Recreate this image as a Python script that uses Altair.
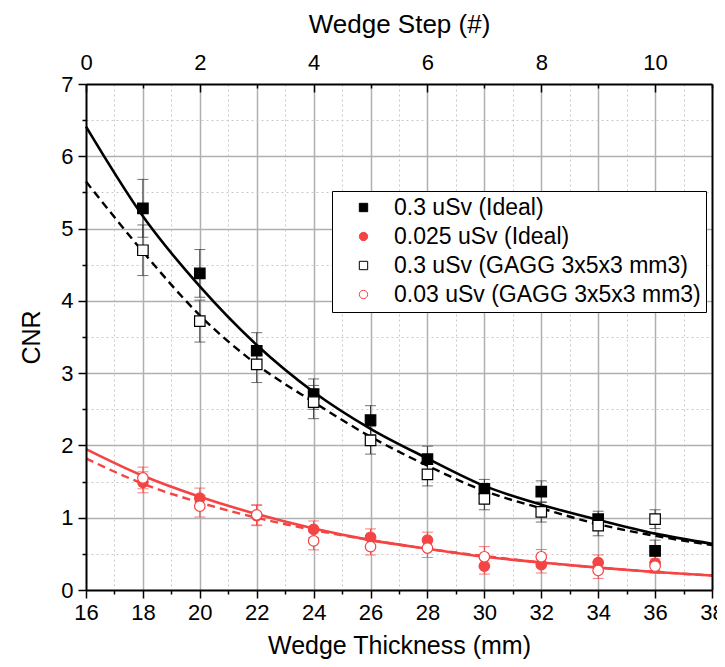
import altair as alt
import pandas as pd

# ---------------- data ----------------
thickness = [18, 20, 22, 24, 26, 28, 30, 32, 34, 36]

ideal_03 = [5.28, 4.38, 3.31, 2.71, 2.35, 1.81, 1.40, 1.36, 0.98, 0.54]
ideal_03_err = [0.40, 0.33, 0.25, 0.21, 0.20, 0.18, 0.13, 0.15, 0.11, 0.15]

ideal_0025 = [1.49, 1.27, 1.03, 0.84, 0.73, 0.69, 0.33, 0.35, 0.38, 0.37]
ideal_0025_err = [0.145, 0.14, 0.14, 0.115, 0.115, 0.11, 0.11, 0.115, 0.105, 0.10]

gagg_03 = [4.70, 3.72, 3.12, 2.60, 2.07, 1.60, 1.26, 1.08, 0.89, 0.98]
gagg_03_err = [0.35, 0.29, 0.25, 0.23, 0.19, 0.16, 0.15, 0.14, 0.14, 0.13]

gagg_003 = [1.55, 1.16, 1.04, 0.68, 0.60, 0.58, 0.46, 0.46, 0.27, 0.33]
gagg_003_err = [0.15, 0.15, 0.14, 0.125, 0.115, 0.13, 0.14, 0.10, 0.11, 0.10]

fit_x = [16, 18, 20, 22, 24, 26, 28, 30, 32, 34, 36, 38]
fit_ideal_03 = [6.41, 5.17, 4.20, 3.39, 2.74, 2.23, 1.82, 1.44, 1.18, 0.97, 0.78, 0.64]
fit_gagg_03 = [5.65, 4.68, 3.80, 3.12, 2.60, 2.12, 1.72, 1.37, 1.13, 0.91, 0.75, 0.62]
fit_ideal_0025 = [1.95, 1.58, 1.29, 1.05, 0.85, 0.69, 0.57, 0.46, 0.38, 0.31, 0.25, 0.20]
fit_gagg_003 = [1.82, 1.47, 1.21, 1.00, 0.83, 0.69, 0.57, 0.47, 0.38, 0.31, 0.25, 0.20]

series_names = [
    "0.3 uSv (Ideal)",
    "0.025 uSv (Ideal)",
    "0.3 uSv (GAGG 3x5x3 mm3)",
    "0.03 uSv (GAGG 3x5x3 mm3)",
]
series_colors = ["#000000", "#F44444", "#000000", "#F44444"]
bar_colors = ["#333333", "#F44444", "#333333", "#F44444"]
series_fills = ["#000000", "#F44444", "#FFFFFF", "#FFFFFF"]
series_shapes = ["square", "circle", "square", "circle"]
fit_dashed = [False, False, True, True]

bottom_ticks = [16, 18, 20, 22, 24, 26, 28, 30, 32, 34, 36, 38]
bottom_minor = [17, 19, 21, 23, 25, 27, 29, 31, 33, 35, 37]
major_grid_x = [18, 20, 22, 24, 26, 28, 30, 32, 34, 36]
left_ticks = [0, 1, 2, 3, 4, 5, 6, 7]
left_minor = [0.5, 1.5, 2.5, 3.5, 4.5, 5.5, 6.5]
major_grid_y = [1, 2, 3, 4, 5, 6]
top_major = [16, 20, 24, 28, 32, 36]
top_minor = [18, 22, 26, 30, 34, 38]

# ---------------- tables ----------------
vals = [ideal_03, ideal_0025, gagg_03, gagg_003]
errs = [ideal_03_err, ideal_0025_err, gagg_03_err, gagg_003_err]
rows = []
for i, (name, v, e) in enumerate(zip(series_names, vals, errs)):
    for x, y, d in zip(thickness, v, e):
        rows.append({"x": x, "y": y, "lo": y - d, "hi": y + d, "series": name,
                     "idx": i, "barcol": bar_colors[i]})
pts = pd.DataFrame(rows)

fits = [fit_ideal_03, fit_ideal_0025, fit_gagg_03, fit_gagg_003]
frows = []
for i, (name, f, dash) in enumerate(zip(series_names, fits, fit_dashed)):
    for x, y in zip(fit_x, f):
        frows.append({"x": x, "y": y, "series": name, "dash": dash,
                      "col": series_colors[i]})
fit_df = pd.DataFrame(frows)

FONT = "Liberation Sans"
W, H = 626, 506

xs = alt.Scale(domain=[16, 38], nice=False, zero=False)
ys = alt.Scale(domain=[0, 7], nice=False, zero=False)

stroke_scale = alt.Scale(domain=series_names, range=series_colors)
fill_scale = alt.Scale(domain=series_names, range=series_fills)
shape_scale = alt.Scale(domain=series_names, range=series_shapes)

no_axis_common = dict(labels=False, domain=False, title=None)

# ---------------- axis-only layers ----------------
def axis_layer(xaxis, yaxis):
    return alt.Chart(pts).mark_point(opacity=0).encode(
        x=alt.X("x:Q", scale=xs, axis=xaxis),
        y=alt.Y("y:Q", scale=ys, axis=yaxis),
    )

minor_grid = axis_layer(
    alt.Axis(orient="bottom", values=bottom_minor, grid=True, gridColor="#c8c8c8",
             gridDash=[2, 3], gridWidth=1, tickSize=4, tickColor="black", tickWidth=1.5,
             **no_axis_common),
    alt.Axis(orient="left", values=left_minor, grid=True, gridColor="#c8c8c8",
             gridDash=[2, 3], gridWidth=1, tickSize=4, tickColor="black", tickWidth=1.5,
             **no_axis_common),
)

major_grid = axis_layer(
    alt.Axis(orient="bottom", values=major_grid_x, grid=True, gridColor="#b0b0b0",
             gridWidth=1.5, ticks=False, **no_axis_common),
    alt.Axis(orient="left", values=major_grid_y, grid=True, gridColor="#b0b0b0",
             gridWidth=1.5, ticks=False, **no_axis_common),
)

main_axes = axis_layer(
    alt.Axis(orient="bottom", values=bottom_ticks, grid=False, tickSize=8,
             tickColor="black", tickWidth=1.5, domainColor="black", domainWidth=2,
             labelFont=FONT, labelFontSize=22, labelColor="black", labelPadding=4,
             labelFlush=False, labelOverlap=False,
             title="Wedge Thickness (mm)", titleFont=FONT, titleFontSize=25,
             titleFontWeight="normal", titleColor="black", titlePadding=10, zindex=1),
    alt.Axis(orient="left", values=left_ticks, grid=False, tickSize=8,
             tickColor="black", tickWidth=1.5, domainColor="black", domainWidth=2,
             labelFont=FONT, labelFontSize=22, labelColor="black", labelPadding=5,
             labelFlush=False, labelOverlap=False,
             title="CNR", titleFont=FONT, titleFontSize=25,
             titleFontWeight="normal", titleColor="black", titlePadding=16, zindex=1),
)

frame_axes = axis_layer(
    alt.Axis(orient="top", ticks=False, labels=False, grid=False, title=None,
             domainColor="black", domainWidth=2, zindex=1),
    alt.Axis(orient="right", ticks=False, labels=False, grid=False, title=None,
             domainColor="black", domainWidth=2, zindex=1),
)

top_axis = alt.Chart(pts).mark_point(opacity=0).encode(
    x=alt.X("x:Q", scale=xs, axis=alt.Axis(
        orient="top", values=top_major, offset=-8, tickSize=8, tickColor="black",
        tickWidth=1.5, domain=False, grid=False,
        labelExpr="(datum.value - 16) / 2", labelFont=FONT, labelFontSize=22,
        labelColor="black", labelPadding=10, labelFlush=False, labelOverlap=False,
        title="Wedge Step (#)", titleFont=FONT, titleFontSize=26,
        titleFontWeight="normal", titleColor="black", titlePadding=14)),
)

top_minor_axis = alt.Chart(pts).mark_point(opacity=0).encode(
    x=alt.X("x:Q", scale=xs, axis=alt.Axis(
        orient="top", values=top_minor, offset=-4, tickSize=4, tickColor="black",
        tickWidth=1.5, grid=False, **no_axis_common)),
)

# ---------------- data layers ----------------
err_rule = alt.Chart(pts).mark_rule(strokeWidth=1).encode(
    x=alt.X("x:Q", scale=xs, axis=None),
    y=alt.Y("lo:Q", scale=ys, axis=None),
    y2="hi:Q",
    color=alt.Color("barcol:N", scale=None),
)
err_cap_lo = alt.Chart(pts).mark_tick(orient="horizontal", size=11, thickness=1).encode(
    x=alt.X("x:Q", scale=xs, axis=None),
    y=alt.Y("lo:Q", scale=ys, axis=None),
    color=alt.Color("barcol:N", scale=None),
)
err_cap_hi = alt.Chart(pts).mark_tick(orient="horizontal", size=11, thickness=1).encode(
    x=alt.X("x:Q", scale=xs, axis=None),
    y=alt.Y("hi:Q", scale=ys, axis=None),
    color=alt.Color("barcol:N", scale=None),
)

fit_solid = alt.Chart(fit_df).transform_filter("!datum.dash").mark_line(
    strokeWidth=2.6, interpolate="monotone").encode(
    x=alt.X("x:Q", scale=xs, axis=None),
    y=alt.Y("y:Q", scale=ys, axis=None),
    color=alt.Color("col:N", scale=None),
    detail="series:N",
)
fit_dash = alt.Chart(fit_df).transform_filter("datum.dash").mark_line(
    strokeWidth=2.4, strokeDash=[8, 5], interpolate="monotone").encode(
    x=alt.X("x:Q", scale=xs, axis=None),
    y=alt.Y("y:Q", scale=ys, axis=None),
    color=alt.Color("col:N", scale=None),
    detail="series:N",
)

legend = alt.Legend(
    title=None, orient="none", legendX=246, legendY=107,
    labelFont=FONT, labelFontSize=23, labelColor="black", labelLimit=400,
    symbolSize=70, symbolStrokeWidth=1, symbolOffset=15, labelOffset=19,
    rowPadding=5, padding=5, strokeColor="black", fillColor="white",
)

points = alt.Chart(pts).mark_point(size=110, strokeWidth=1.2, opacity=1).encode(
    x=alt.X("x:Q", scale=xs, axis=None),
    y=alt.Y("y:Q", scale=ys, axis=None),
    stroke=alt.Stroke("series:N", scale=stroke_scale, legend=legend),
    fill=alt.Fill("series:N", scale=fill_scale, legend=legend),
    shape=alt.Shape("series:N", scale=shape_scale, legend=legend),
    order=alt.Order("idx:Q"),
)

chart = alt.layer(
    minor_grid, major_grid, top_minor_axis, top_axis,
    err_rule, err_cap_lo, err_cap_hi, fit_solid, fit_dash, points,
    main_axes, frame_axes,
).resolve_axis(x="independent", y="independent").properties(
    width=W, height=H,
    autosize=alt.AutoSizeParams(type="none"),
    padding={"left": 78, "top": 76, "right": 5, "bottom": 69},
).configure_view(stroke=None).configure(background="white")

chart.save("out.html", embed_options={"renderer": "svg", "actions": False})
